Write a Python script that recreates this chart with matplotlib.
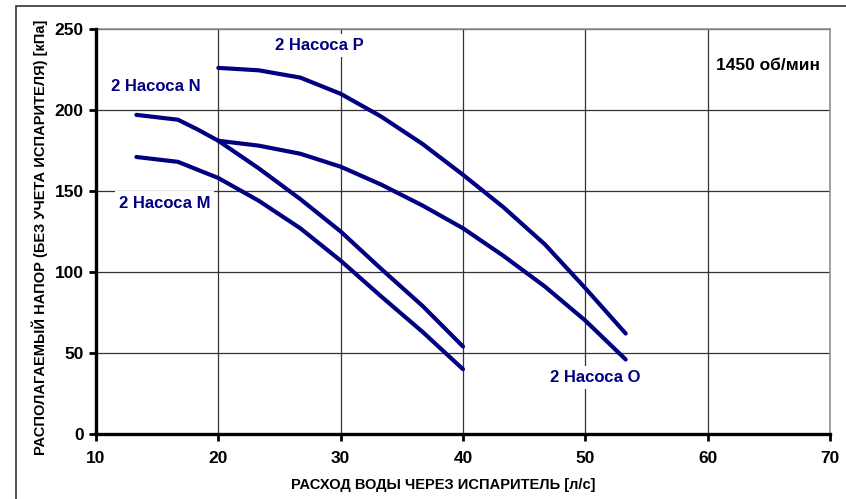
import matplotlib.pyplot as plt
from matplotlib.patches import Rectangle

plt.rcParams['font.family'] = ['Liberation Sans', 'DejaVu Sans']
plt.rcParams['font.weight'] = 'bold'

# pump curves, flow [l/s] vs available head [kPa]
x_m = [13.3, 16.7, 20, 23.3, 26.7, 30, 33.3, 36.7, 40]
y_m = [171, 168, 158, 144, 127, 107, 85, 63, 40]

x_n = [13.3, 16.7, 18.3, 20, 23.3, 26.7, 30, 33.3, 36.7, 40]
y_n = [197, 194, 188, 181, 164, 145, 125, 102, 79, 54]

x_o = [20, 23.3, 26.7, 30, 33.3, 36.7, 40, 43.3, 46.7, 50, 53.3]
y_o = [181, 178, 173, 165, 154, 141, 127, 110, 91, 70, 46]

x_p = [20, 23.3, 26.7, 30, 33.3, 36.7, 40, 43.3, 46.7, 50, 53.3]
y_p = [226, 224.5, 220, 210, 196, 179, 160, 140, 117, 90, 62]

x_ticks = [10, 20, 30, 40, 50, 60, 70]
y_ticks = [0, 50, 100, 150, 200, 250]

navy = '#000080'

fig = plt.figure(figsize=(8.46, 4.99), dpi=100)
ax = fig.add_axes([96/846, 1 - 434/499, (830 - 96)/846, (434 - 29)/499])

# outer frame around the chart
fig.patches.append(Rectangle((16/846, -0.2), 1.2, 1 - 6/499 + 0.2,
                             transform=fig.transFigure, fill=False,
                             edgecolor='#333333', linewidth=1.2))

for x, y in [(x_m, y_m), (x_n, y_n), (x_o, y_o), (x_p, y_p)]:
    ax.plot(x, y, color=navy, linewidth=3.0, solid_capstyle='round', zorder=3)

ax.set_xlim(10, 70)
ax.set_ylim(0, 250)
ax.set_xticks(x_ticks)
ax.set_yticks(y_ticks)
ax.grid(True, color='#333333', linewidth=0.9)
ax.set_axisbelow(True)

for side in ['top', 'right']:
    ax.spines[side].set_color('#909090')
    ax.spines[side].set_linewidth(1.2)
for side in ['left', 'bottom']:
    ax.spines[side].set_color('black')
    ax.spines[side].set_linewidth(2.4)
    ax.spines[side].set_zorder(4)

ax.tick_params(axis='both', direction='out', length=5, width=2, labelsize=12.5, pad=4)
ax.tick_params(axis='x', pad=7)
for lab in ax.get_xticklabels() + ax.get_yticklabels():
    lab.set_fontweight('bold')

ax.set_xlabel('РАСХОД ВОДЫ ЧЕРЕЗ ИСПАРИТЕЛЬ [л/с]', fontsize=10.5, fontweight='bold')
ax.xaxis.set_label_coords((443 - 96)/734, -0.108)
ax.set_ylabel('РАСПОЛАГАЕМЫЙ НАПОР (БЕЗ УЧЕТА ИСПАРИТЕЛЯ) [кПа]', fontsize=10.5, fontweight='bold')
ax.yaxis.set_label_coords(-0.066, 0.486)

box = dict(facecolor='white', edgecolor='none', pad=3)
lbl = dict(color=navy, fontsize=12, fontweight='bold', ha='center', va='center',
           bbox=box, zorder=2)
ax.text(14.9, 214.5, '2 Насоса N', **lbl)
ax.text(15.6, 142.5, '2 Насоса M', **lbl)
ax.text(28.3, 240, '2 Насоса P', **lbl)
ax.text(50.8, 35, '2 Насоса O', **lbl)
ax.text(64.9, 227.5, '1450 об/мин', color='black', fontsize=12.5, fontweight='bold',
        ha='center', va='center', bbox=box, zorder=2)

fig.savefig('out.png', dpi=100)
